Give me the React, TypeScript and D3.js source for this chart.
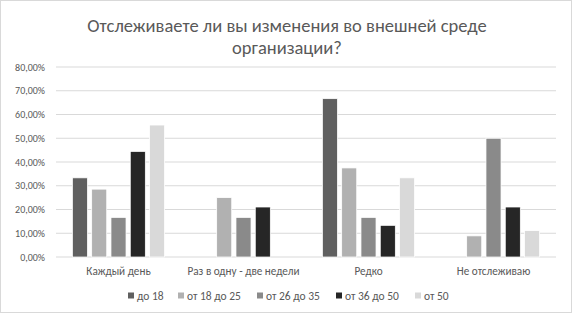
import React from "react";
import * as d3 from "d3";

const title = ["Отслеживаете ли вы изменения во внешней среде", "организации?"];
const categories = ["Каждый день", "Раз в одну - две недели", "Редко", "Не отслеживаю"];
const seriesNames = ["до 18", "от 18 до 25", "от 26 до 35", "от 36 до 50", "от 50"];
const colors = ["#606060", "#b1b1b1", "#8a8a8a", "#262626", "#d9d9d9"];
const do18 = [33.33, 0, 66.67, 0];
const ot18do25 = [28.57, 25.0, 37.5, 8.89];
const ot26do35 = [16.67, 16.67, 16.67, 50.0];
const ot36do50 = [44.44, 21.05, 13.33, 21.05];
const ot50 = [55.56, 0, 33.33, 11.11];
const seriesValues = [do18, ot18do25, ot26do35, ot36do50, ot50];
const yTicks = [0, 10, 20, 30, 40, 50, 60, 70, 80];

const W = 572, H = 315;
const font = "Carlito, 'Liberation Sans', Arial, sans-serif";

export default function App() {
  const x0 = d3.scaleBand().domain(categories).range([56, 556]).paddingInner(0).paddingOuter(0);
  const x1 = d3.scaleBand().domain(seriesNames).range([0, x0.bandwidth()]).paddingInner(0.22).paddingOuter(0.85);
  const y = d3.scaleLinear().domain([0, 80]).range([257, 67]);
  const fmt = (v: number) => v.toFixed(2).replace(".", ",") + "%";
  const legendX = [128, 178, 257, 336, 415];
  return (
    <svg width={W} height={H} style={{ position: "absolute", left: 0, top: 0 }} fontFamily={font}>
      <rect x={0.5} y={0.5} width={W - 1} height={H - 3} fill="#fff" stroke="#d9d9d9" />
      {title.map((t, i) => (
        <text key={i} x={287} y={31.5 + i * 22} textAnchor="middle" fontSize={18.5} fill="#595959">{t}</text>
      ))}
      {yTicks.map((t) => (
        <g key={t}>
          <line x1={56} x2={556} y1={y(t)} y2={y(t)} stroke="#d9d9d9" strokeWidth={1} />
          <text x={45} y={y(t) + 3.5} textAnchor="end" fontSize={10} fill="#595959">{fmt(t)}</text>
        </g>
      ))}
      {categories.map((c, ci) => (
        <g key={c} transform={`translate(${x0(c)},0)`}>
          {seriesNames.map((s, si) => {
            const v = seriesValues[si][ci];
            if (!v) return null;
            return (
              <rect key={s} x={x1(s)} y={y(v)} width={x1.bandwidth()} height={y(0) - y(v)}
                fill={colors[si]} stroke="#ffffff" strokeWidth={0.75} />
            );
          })}
          <text x={x0.bandwidth() / 2} y={274.5} textAnchor="middle" fontSize={11.2} fill="#595959">{c}</text>
        </g>
      ))}
      {seriesNames.map((s, si) => (
        <g key={s}>
          <rect x={legendX[si]} y={292.5} width={6} height={6} fill={colors[si]} />
          <text x={legendX[si] + 9} y={299.5} fontSize={11.5} fill="#595959">{s}</text>
        </g>
      ))}
    </svg>
  );
}
